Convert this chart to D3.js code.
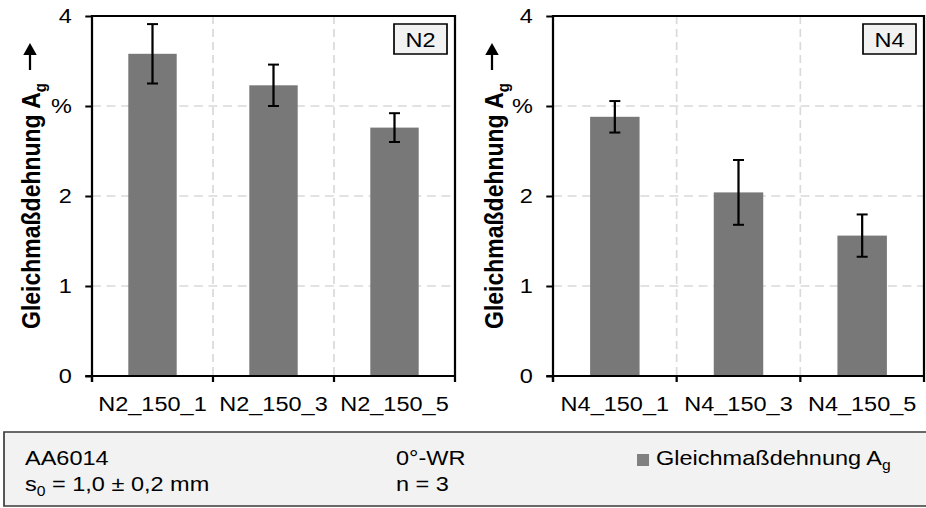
<!DOCTYPE html>
<html>
<head>
<meta charset="utf-8">
<script src="https://cdn.jsdelivr.net/npm/d3@7"></script>
<style>
  body { margin: 0; background: #fff; }
  svg { display: block; font-family: Arial, "Liberation Sans", sans-serif; }
  .tick text { font-size: 21px; fill: #000; }
  .grid line { stroke: #d9d9d9; stroke-width: 1.5; stroke-dasharray: 8 5; }
</style>
</head>
<body>
<div id="chart"></div>
<script>
// data
const categoriesN2 = ['N2_150_1', 'N2_150_3', 'N2_150_5']
const valuesN2 = [3.58, 3.23, 2.76]
const errorsN2 = [0.33, 0.23, 0.16]

const categoriesN4 = ['N4_150_1', 'N4_150_3', 'N4_150_5']
const valuesN4 = [2.88, 2.04, 1.56]
const errorsN4 = [0.175, 0.36, 0.235]

const yTicks = [0, 1, 2, 3, 4]
const yTickLabels = ['0', '1', '2', '%', '4']

// the original picture is stretched sideways, so draw in a narrower space and scale x
const SX = 1.12
const width = 926, height = 508

const svg = d3.select('#chart')
  .append('svg')
  .attr('width', width)
  .attr('height', height)

const root = svg.append('g').attr('transform', `scale(${SX},1)`)

const plotTop = 16, plotBottom = 376

const yScale = d3.scaleLinear().domain([0, 4]).range([plotBottom, plotTop])

const panels = [
  { tag: 'N2', cats: categoriesN2, vals: valuesN2, errs: errorsN2, left: 92, right: 455, titleX: 40, arrowX: 30 },
  { tag: 'N4', cats: categoriesN4, vals: valuesN4, errs: errorsN4, left: 553, right: 924, titleX: 503, arrowX: 492 }
]

panels.forEach(p => {
  const x0 = p.left / SX, x1 = p.right / SX
  const xScale = d3.scaleBand().domain(p.cats).range([x0, x1]).padding(0)
  const barW = xScale.bandwidth() * 0.4
  const rows = p.cats.map((c, i) => ({ cat: c, value: p.vals[i], err: p.errs[i] }))

  const g = root.append('g')

  // horizontal grid
  g.append('g').attr('class', 'grid')
    .selectAll('line')
    .data(yTicks.filter(d => d > 0 && d < 4))
    .join('line')
    .attr('x1', x0).attr('x2', x1)
    .attr('y1', d => yScale(d)).attr('y2', d => yScale(d))

  // vertical grid at category boundaries
  g.append('g').attr('class', 'grid')
    .selectAll('line')
    .data(p.cats.slice(1))
    .join('line')
    .attr('x1', d => xScale(d)).attr('x2', d => xScale(d))
    .attr('y1', plotTop).attr('y2', plotBottom)

  // bars
  g.selectAll('rect.bar')
    .data(rows)
    .join('rect')
    .attr('class', 'bar')
    .attr('x', d => xScale(d.cat) + (xScale.bandwidth() - barW) / 2)
    .attr('width', barW)
    .attr('y', d => yScale(d.value))
    .attr('height', d => yScale(0) - yScale(d.value))
    .attr('fill', '#787878')

  // error bars
  const cx = d => xScale(d.cat) + xScale.bandwidth() / 2
  const capW = 11 / SX / 2
  const eb = g.append('g').attr('stroke', '#000').attr('stroke-width', 2)
  eb.selectAll('line.stem').data(rows).join('line').attr('class', 'stem')
    .attr('x1', cx).attr('x2', cx)
    .attr('y1', d => yScale(d.value + d.err)).attr('y2', d => yScale(d.value - d.err))
  eb.selectAll('line.capTop').data(rows).join('line').attr('class', 'capTop')
    .attr('x1', d => cx(d) - capW).attr('x2', d => cx(d) + capW)
    .attr('y1', d => yScale(d.value + d.err)).attr('y2', d => yScale(d.value + d.err))
  eb.selectAll('line.capBot').data(rows).join('line').attr('class', 'capBot')
    .attr('x1', d => cx(d) - capW).attr('x2', d => cx(d) + capW)
    .attr('y1', d => yScale(d.value - d.err)).attr('y2', d => yScale(d.value - d.err))

  // frame (top + right)
  g.append('path')
    .attr('d', `M${x0},${plotTop}H${x1}V${plotBottom}`)
    .attr('fill', 'none').attr('stroke', '#000').attr('stroke-width', 2)

  // y axis
  g.append('g')
    .attr('transform', `translate(${x0},0)`)
    .call(d3.axisLeft(yScale)
      .tickValues(yTicks)
      .tickSize(6)
      .tickPadding(12)
      .tickFormat((d, i) => yTickLabels[i]))
    .call(a => a.select('.domain').remove())
    .call(a => a.selectAll('.tick line').attr('stroke', '#000').attr('stroke-width', 2))
  g.append('line')
    .attr('x1', x0).attr('x2', x0).attr('y1', plotTop - 1).attr('y2', plotBottom + 6)
    .attr('stroke', '#000').attr('stroke-width', 2)

  // x axis
  g.append('g')
    .attr('transform', `translate(0,${plotBottom})`)
    .call(d3.axisBottom(xScale).tickSize(0).tickPadding(20))
    .call(a => a.select('.domain').remove())
  g.append('line')
    .attr('x1', x0 - 6).attr('x2', x1).attr('y1', plotBottom).attr('y2', plotBottom)
    .attr('stroke', '#000').attr('stroke-width', 2)
  g.selectAll('line.xtick')
    .data(p.cats.map(c => xScale(c)).concat([x1]))
    .join('line')
    .attr('class', 'xtick')
    .attr('x1', d => d).attr('x2', d => d)
    .attr('y1', plotBottom).attr('y2', plotBottom + 6)
    .attr('stroke', '#000').attr('stroke-width', 2)

  // tag box
  const bx0 = (p.right - 61) / SX, bx1 = (p.right - 8) / SX
  g.append('rect')
    .attr('x', bx0).attr('y', 24)
    .attr('width', bx1 - bx0).attr('height', 30)
    .attr('fill', '#f2f2f2').attr('stroke', '#000').attr('stroke-width', 1.5)
  g.append('text')
    .attr('x', (bx0 + bx1) / 2).attr('y', 47)
    .attr('text-anchor', 'middle')
    .attr('font-size', 21)
    .text(p.tag)

  // y title
  const title = g.append('text')
    .attr('transform', `translate(${p.titleX / SX},206) rotate(-90)`)
    .attr('text-anchor', 'middle')
    .attr('font-size', 23)
    .attr('font-weight', 'bold')
  title.append('tspan').text('Gleichmaßdehnung A')
  title.append('tspan').attr('font-size', 15).attr('dy', 5).text('g')

  // arrow
  const ax = p.arrowX / SX
  g.append('line')
    .attr('x1', ax).attr('x2', ax).attr('y1', 70).attr('y2', 52)
    .attr('stroke', '#000').attr('stroke-width', 2)
  g.append('path')
    .attr('d', `M${ax},43L${ax - 6},55L${ax + 6},55Z`)
    .attr('fill', '#000')
})

// info box
const info = root.append('g')
info.append('rect')
  .attr('x', 4 / SX).attr('y', 432)
  .attr('width', (width + 10) / SX).attr('height', 74)
  .attr('fill', '#f2f2f2').attr('stroke', '#3a3a3a').attr('stroke-width', 1.5)

const infoText = (x, y) => info.append('text')
  .attr('x', x / SX).attr('y', y).attr('font-size', 21)

infoText(25, 465).text('AA6014')
const s0 = infoText(25, 491)
s0.append('tspan').text('s')
s0.append('tspan').attr('font-size', 14).attr('dy', 5).text('0')
s0.append('tspan').attr('dy', -5).text(' = 1,0 ± 0,2 mm')
infoText(396, 465).text('0°-WR')
infoText(396, 491).text('n = 3')

info.append('rect')
  .attr('x', 637 / SX).attr('y', 454)
  .attr('width', 12 / SX).attr('height', 12)
  .attr('fill', '#808080')
const leg = infoText(656, 465)
leg.append('tspan').text('Gleichmaßdehnung A')
leg.append('tspan').attr('font-size', 14).attr('dy', 5).text('g')
</script>
</body>
</html>
